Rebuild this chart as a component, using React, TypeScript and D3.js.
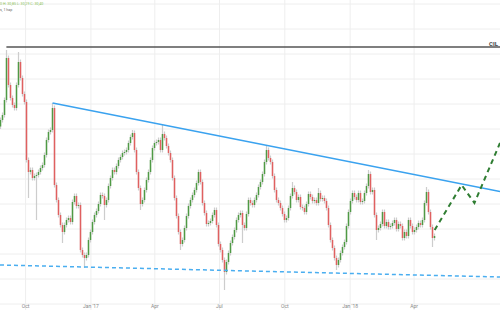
import React from "react";
import * as d3 from "d3";

// Daily-ish closing prices (one bar every ~2.8 days)
const closes: number[] = [
  34.36, 34.56, 35.16, 36.84, 35.76, 35.24, 34.96, 34.84, 35.76, 36.68,
  36.04, 35.40, 35.08, 32.76, 32.28, 32.36, 32.04, 32.12, 32.16, 32.28,
  32.44, 32.56, 32.96, 33.56, 33.88, 33.96, 34.84, 31.76, 31.16, 30.56,
  30.16, 29.88, 30.16, 30.36, 30.44, 30.28, 31.08, 31.32, 30.92, 30.96,
  29.16, 28.96, 28.84, 28.96, 29.56, 29.88, 30.28, 30.56, 30.72, 31.00,
  31.36, 31.32, 30.96, 31.16, 31.72, 32.04, 32.36, 32.28, 32.52, 32.76,
  32.88, 33.04, 33.08, 33.16, 33.44, 33.68, 33.84, 33.16, 32.28, 31.64,
  31.00, 31.16, 31.56, 31.96, 32.28, 32.76, 33.24, 33.44, 33.48, 33.56,
  33.16, 33.80, 33.64, 33.32, 33.04, 32.76, 32.04, 31.24, 30.52, 29.88,
  29.40, 29.56, 30.04, 30.52, 30.92, 31.16, 31.36, 31.56, 31.84, 32.28,
  31.88, 31.04, 30.64, 30.20, 30.24, 30.32, 30.56, 30.76, 30.16, 29.40,
  29.16, 28.76, 28.28, 28.68, 29.04, 29.44, 29.68, 29.96, 30.36, 30.56,
  30.64, 30.16, 30.04, 30.60, 31.16, 31.04, 30.96, 31.16, 31.36, 31.68,
  31.88, 32.20, 32.68, 33.16, 32.84, 32.68, 32.12, 31.56, 31.16, 31.04,
  30.84, 30.60, 30.36, 30.44, 30.84, 31.32, 31.64, 31.48, 31.16, 31.28,
  30.88, 30.84, 30.68, 31.00, 31.40, 31.28, 31.12, 31.16, 31.04, 31.44,
  31.20, 31.24, 31.12, 30.84, 30.16, 29.56, 29.24, 28.84, 28.56, 28.76,
  29.04, 29.28, 29.48, 30.12, 30.68, 31.12, 31.44, 31.28, 31.16, 31.44,
  31.08, 31.12, 31.44, 31.72, 32.20, 31.48, 31.56, 30.56, 29.96, 30.04,
  30.20, 30.68, 30.12, 30.28, 30.08, 30.12, 30.24, 30.36, 30.00, 30.20,
  30.12, 29.64, 29.88, 29.72, 30.36, 30.12, 29.88, 29.96, 30.08, 30.24,
  30.16, 30.36, 31.04, 31.48, 30.68, 30.08, 29.64, 29.72,
];
const firstOpen = 34.1;

// Notable wick extremes [bar index, price]
const wickHighs: [number, number][] = [
  [3, 37.16], [9, 37.08], [26, 35.04], [66, 33.96], [81, 34.16], [133, 33.36],
  [146, 31.88], [159, 31.64], [184, 32.36], [213, 31.68],
];
const wickLows: [number, number][] = [
  [14, 31.24], [18, 30.36], [31, 29.44], [42, 28.44], [52, 30.36], [70, 30.76],
  [90, 29.16], [112, 27.56], [121, 29.44], [168, 28.36], [188, 29.56], [216, 29.28],
];

// Time axis
const tickDates: Date[] = [
  new Date(2016, 9, 1), new Date(2017, 0, 1), new Date(2017, 3, 1), new Date(2017, 6, 1),
  new Date(2017, 9, 1), new Date(2018, 0, 1), new Date(2018, 3, 1),
];
const tickLabels: string[] = ["Oct", "Jan '17", "Apr", "Jul", "Oct", "Jan '18", "Apr"];
const priceGrid: number[] = [27, 28, 29, 30, 31, 32, 33, 34, 35, 36, 37, 38, 39];

// Drawn lines: [date, price]
const resistance: [Date, number][] = [[new Date(2016, 10, 8), 35.04], [new Date(2018, 6, 31), 31.5]];
const support: [Date, number][] = [[new Date(2016, 7, 26), 28.56], [new Date(2018, 6, 31), 28.08]];
const ceiling: [Date, number][] = [[new Date(2016, 8, 4), 37.28], [new Date(2018, 6, 31), 37.28]];
const projection: [Date, number][] = [
  [new Date(2018, 3, 30), 29.96], [new Date(2018, 5, 7), 31.76],
  [new Date(2018, 5, 25), 31.04], [new Date(2018, 6, 31), 33.44],
];
const ceilingLabel = "CIL";
const headerLine1 = "0 H: 30,85 L: 30,29 C: 30,40";
const headerLine2 = "s, 1 hap";

const W = 500;
const H = 310;

export default function App() {
  const x = d3.scaleTime().domain([new Date(2016, 7, 26), new Date(2018, 6, 31)]).range([0, W]);
  const xi = d3.scaleLinear().domain([0, 250]).range([0, W]);
  const y = d3.scaleLinear().domain([27, 39]).range([304, 4]);
  const hiMap = new Map(wickHighs);
  const loMap = new Map(wickLows);

  const line = d3.line<[Date, number]>().x((d) => x(d[0])).y((d) => y(d[1]));

  const bodyW = 1.5;
  const candles = closes.map((c, i) => {
    const o = i === 0 ? firstOpen : closes[i - 1];
    const cx = xi(i) + 0.5;
    const yo = y(o);
    const yc = y(c);
    const top = Math.min(yo, yc);
    const bot = Math.max(yo, yc);
    const hi = hiMap.has(i) ? y(hiMap.get(i)!) : top - 2.5;
    const lo = loMap.has(i) ? y(loMap.get(i)!) : bot + 2.5;
    const up = c >= o;
    return (
      <g key={i}>
        <line x1={cx} x2={cx} y1={Math.min(hi, top - 1)} y2={Math.max(lo, bot + 1)} stroke="#cdcdcd" strokeWidth={1.2} />
        <rect x={cx - bodyW / 2} y={top} width={bodyW} height={Math.max(bot - top, 0.8)} fill={up ? "#4f9a45" : "#e06060"} />
      </g>
    );
  });

  return (
    <svg width={W} height={H} style={{ position: "fixed", left: 0, top: 0, background: "#fff" }} fontFamily="Roboto, 'DejaVu Sans', sans-serif">
      <rect width={W} height={H} fill="#fff" />
      {priceGrid.map((p) => (
        <line key={p} x1={0} x2={W} y1={y(p)} y2={y(p)} stroke="#eeeeee" strokeWidth={1} />
      ))}
      {tickDates.map((d, i) => (
        <line key={i} x1={x(d)} x2={x(d)} y1={0} y2={H} stroke="#eeeeee" strokeWidth={1} />
      ))}
      {tickDates.map((d, i) => (
        <text key={"t" + i} x={x(d)} y={308} fontSize={5} fill="#8a8a8a" textAnchor="middle">{tickLabels[i]}</text>
      ))}
      <text x={0} y={5} fontSize={3.6} fill="#8cc35a">{headerLine1}</text>
      <text x={0} y={11} fontSize={3.6} fill="#666">{headerLine2}</text>
      {candles}
      <path d={line(ceiling) || ""} fill="none" stroke="#555" strokeWidth={1.4} />
      <text x={498} y={46} fontSize={6} fontWeight="bold" fill="#444" textAnchor="end">{ceilingLabel}</text>
      <path d={line(resistance) || ""} fill="none" stroke="#3aa2ef" strokeWidth={1.5} />
      <path d={line(support) || ""} fill="none" stroke="#4aaef0" strokeWidth={1.5} strokeDasharray="4 3" />
      <path d={line(projection) || ""} fill="none" stroke="#2f7d32" strokeWidth={2} strokeDasharray="5 4" />
    </svg>
  );
}
